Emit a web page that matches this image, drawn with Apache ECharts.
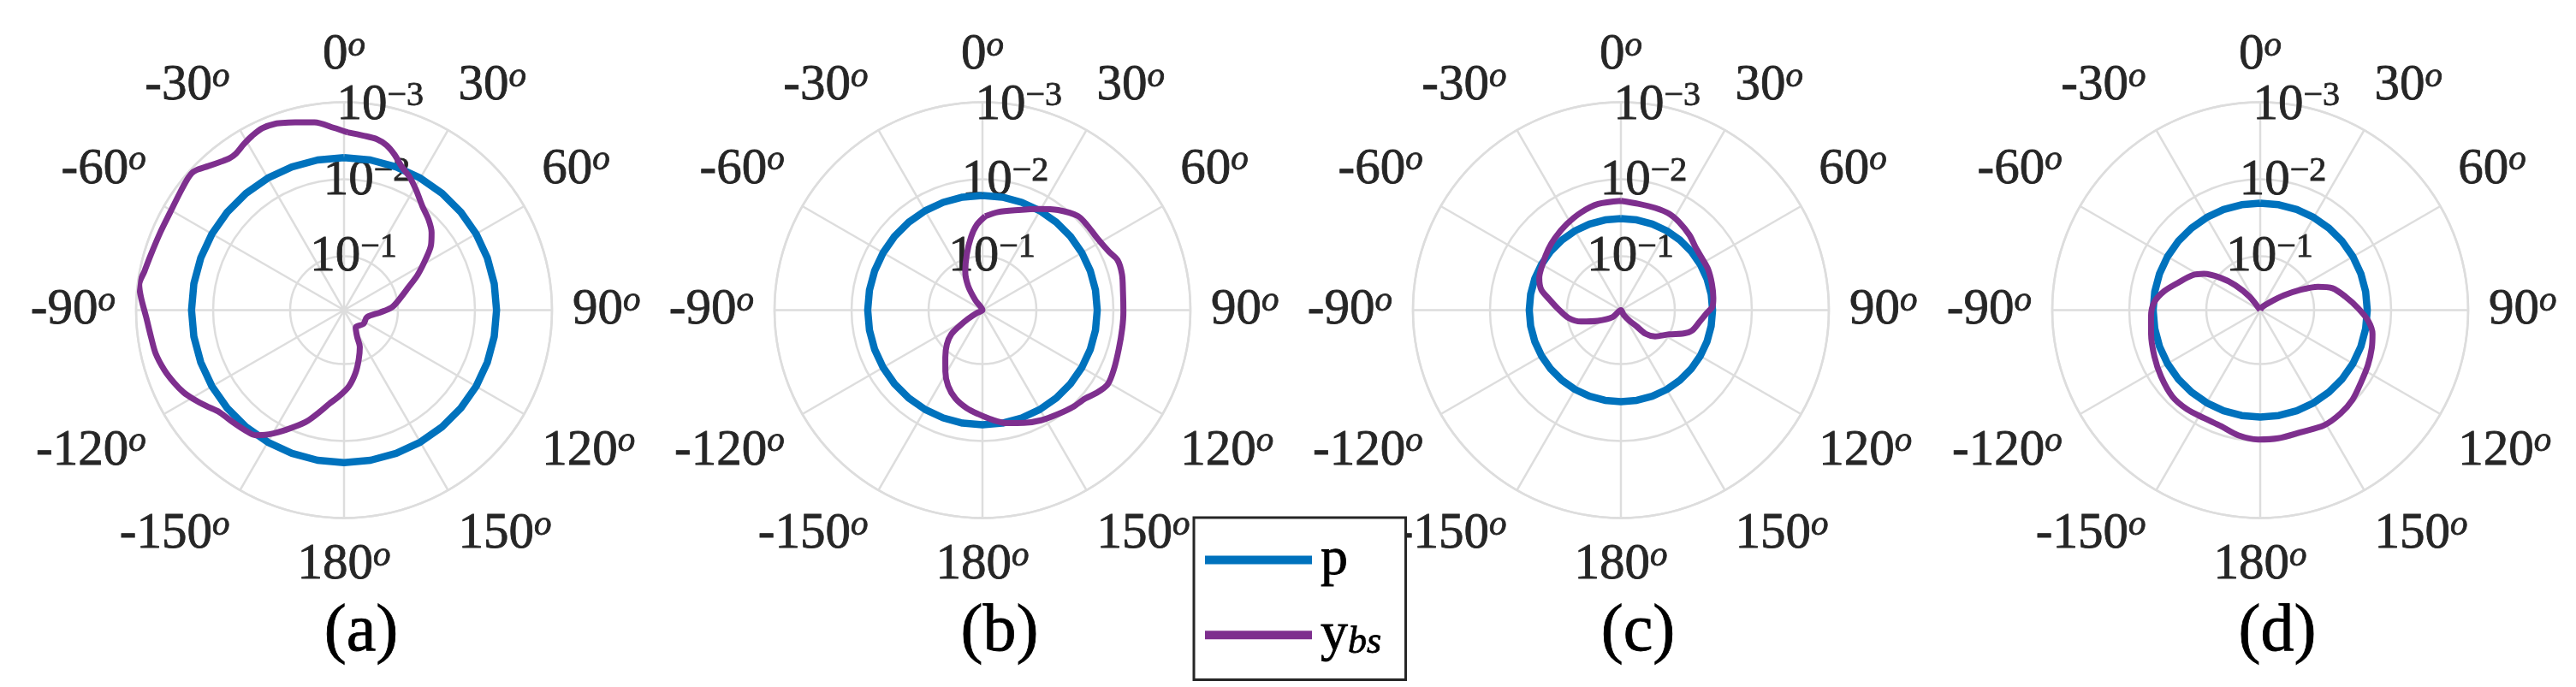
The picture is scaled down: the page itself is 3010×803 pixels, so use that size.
<!DOCTYPE html>
<html><head><meta charset="utf-8">
<script src="https://cdn.jsdelivr.net/npm/echarts@6/dist/echarts.min.js"></script>
<style>html,body{margin:0;padding:0;background:#fff}#c{width:3010px;height:803px}</style>
</head><body><div id="c"></div>
<script>
// ---------- data (values are log10 of the plotted magnitude) ----------
const panelLabels = ['(a)', '(b)', '(c)', '(d)'];
const angleTicks = [0, 30, 60, 90, 120, 150, 180, 210, 240, 270, 300, 330];
const angleTickLabels = ['0', '30', '60', '90', '120', '150', '180', '-150', '-120', '-90', '-60', '-30'];
const radialTicks = [-3, -2, -1];
const radialTickLabels = ['\u22123', '\u22122', '\u22121'];

const pAngles = [0,10,20,30,40,50,60,70,80,90,100,110,120,130,140,150,160,170,180,190,200,210,220,230,240,250,260,270,280,290,300,310,320,330,340,350,360];
const pA = [-2.28,-2.28,-2.28,-2.28,-2.28,-2.28,-2.28,-2.28,-2.28,-2.28,-2.28,-2.28,-2.28,-2.28,-2.28,-2.28,-2.28,-2.28,-2.28,-2.28,-2.28,-2.28,-2.28,-2.28,-2.28,-2.28,-2.28,-2.28,-2.28,-2.28,-2.28,-2.28,-2.28,-2.28,-2.28,-2.28,-2.28];
const pB = [-1.79,-1.79,-1.79,-1.79,-1.79,-1.79,-1.79,-1.79,-1.79,-1.79,-1.79,-1.79,-1.79,-1.79,-1.79,-1.79,-1.79,-1.79,-1.79,-1.79,-1.79,-1.79,-1.79,-1.79,-1.79,-1.79,-1.79,-1.79,-1.79,-1.79,-1.79,-1.79,-1.79,-1.79,-1.79,-1.79,-1.79];
const pC = [-1.49,-1.49,-1.49,-1.49,-1.49,-1.49,-1.49,-1.49,-1.49,-1.49,-1.49,-1.49,-1.49,-1.49,-1.49,-1.49,-1.49,-1.49,-1.49,-1.49,-1.49,-1.49,-1.49,-1.49,-1.49,-1.49,-1.49,-1.49,-1.49,-1.49,-1.49,-1.49,-1.49,-1.49,-1.49,-1.49,-1.49];
const pD = [-1.69,-1.69,-1.69,-1.69,-1.69,-1.69,-1.69,-1.69,-1.69,-1.69,-1.69,-1.69,-1.69,-1.69,-1.69,-1.69,-1.69,-1.69,-1.69,-1.69,-1.69,-1.69,-1.69,-1.69,-1.69,-1.69,-1.69,-1.69,-1.69,-1.69,-1.69,-1.69,-1.69,-1.69,-1.69,-1.69,-1.69];

const ybsAAngles = [1.1,6.4,10.9,14.5,18.1,21.8,26.1,30.9,37.0,42.9,48.4,53.2,57.7,64.4,70.8,79.0,86.8,93.6,107.4,125,146,154,156.8,163.5,169.7,176.3,183.3,188.9,193.5,198.1,202.8,208.3,213.2,215.3,219.3,224.8,230.6,235.2,239.4,242.8,246.9,251.7,257.1,262.1,267.9,273.5,277.1,281,285.9,293,299.3,305.6,309.7,312,313.6,316.7,320,322.9,325.4,329,332.3,335.8,339.7,343.5,345.4,351.1,356.9,1.1];
const ybsA = [-2.61,-2.58,-2.56,-2.51,-2.42,-2.31,-2.23,-2.12,-1.99,-1.91,-1.82,-1.71,-1.56,-1.36,-1.18,-1.03,-0.92,-0.77,-0.61,-0.61,-0.57,-0.69,-0.82,-0.97,-1.13,-1.29,-1.42,-1.53,-1.66,-1.81,-1.94,-2.10,-2.24,-2.29,-2.32,-2.35,-2.39,-2.48,-2.57,-2.64,-2.70,-2.76,-2.81,-2.83,-2.87,-2.94,-2.98,-2.94,-2.91,-2.89,-2.89,-2.92,-2.95,-2.96,-2.94,-2.87,-2.81,-2.77,-2.77,-2.82,-2.86,-2.89,-2.88,-2.84,-2.82,-2.77,-2.67,-2.61];

const ybsBAngles = [1.7,9.1,19.6,28.8,37.1,45.4,51.4,58.3,65.3,69.7,75.6,82.5,90.6,97.6,105.8,114,120.6,126,130.7,137.2,144,152,159.8,167.9,174.8,182.4,189.1,197,204.4,211.2,218.2,226.2,232.3,235.5,239,243.4,285,324.5,329.5,336,344.2,351.1,356.2,1.7];
const ybsB = [-1.52,-1.59,-1.68,-1.80,-1.93,-2.04,-2.05,-2.06,-2.11,-2.17,-2.17,-2.14,-2.13,-2.13,-2.14,-2.17,-2.19,-2.13,-2.06,-2.02,-1.97,-1.92,-1.86,-1.80,-1.73,-1.65,-1.59,-1.50,-1.38,-1.23,-1.08,-0.94,-0.81,-0.66,-0.52,-0.38,-0.30,-0.46,-0.67,-0.85,-1.05,-1.26,-1.41,-1.52];

const ybsCAngles = [0,9.1,18.5,26.7,33.6,42.4,49.4,57.3,64.9,73.8,82.5,87.7,92.3,98.7,106.1,110.4,116.6,127.5,134,136,140.9,149.5,190,230.2,245.2,254.1,261.7,270.8,278.6,284.6,291.6,300.7,309.9,317.7,327.9,337.8,347.9,360];
const ybsC = [-1.72,-1.70,-1.70,-1.70,-1.67,-1.62,-1.57,-1.55,-1.55,-1.53,-1.51,-1.49,-1.41,-1.33,-1.26,-1.17,-1.00,-0.86,-0.74,-0.59,-0.48,-0.37,-0.30,-0.44,-0.63,-0.84,-0.99,-1.11,-1.24,-1.37,-1.44,-1.48,-1.53,-1.57,-1.62,-1.67,-1.71,-1.72];

const ybsDAngles = [0,33.7,50.7,58,63.3,68,73.1,81,88.8,95.7,101.9,108.8,117,125.6,134.1,142.1,151,161.5,172,180.9,190,198.6,207.5,216.4,225.4,236.1,246.3,257.7,266.6,274.2,281.2,288.7,297.2,302.8,309.3,315,321.8,360];
const ybsD = [-0.30,-0.35,-0.46,-0.66,-0.89,-1.11,-1.28,-1.42,-1.57,-1.71,-1.79,-1.83,-1.87,-1.91,-1.97,-2.00,-2.01,-1.97,-1.98,-1.98,-1.95,-1.89,-1.88,-1.90,-1.90,-1.85,-1.80,-1.75,-1.72,-1.68,-1.57,-1.42,-1.29,-1.17,-0.96,-0.76,-0.52,-0.30];

// ---------- styling ----------
const F = "'Liberation Serif', 'DejaVu Serif', serif";
const GRID = '#dddddd';
const BLUE = '#0072BD';
const PURPLE = '#7E2F8E';
const TXT = '#262626';
const centers = [[402, 362.5], [1148, 362.5], [1894, 362.5], [2641, 362.5]];
const titleX = [417, 1163, 1909, 2656];
const R = 243;

const pSets = [pA, pB, pC, pD];
const ySets = [[ybsAAngles, ybsA], [ybsBAngles, ybsB], [ybsCAngles, ybsC], [ybsDAngles, ybsD]];

const heavy = { textBorderColor: TXT, textBorderWidth: 0.8 };
const angleRich = {
  n: Object.assign({ fontFamily: F, fontSize: 59, color: TXT, lineHeight: 62 }, heavy),
  o: Object.assign({ fontFamily: F, fontSize: 41, fontStyle: 'italic', color: TXT, lineHeight: 32, verticalAlign: 'top' }, heavy)
};
const radRich = {
  n: Object.assign({ fontFamily: F, fontSize: 59, color: TXT, lineHeight: 62 }, heavy),
  s: Object.assign({ fontFamily: F, fontSize: 40, color: TXT, lineHeight: 36, verticalAlign: 'top' }, heavy)
};
function angleFmt(v) {
  const i = angleTicks.indexOf(Math.round(v));
  if (i < 0) return '';
  return '{n|' + angleTickLabels[i] + '}{o|o}';
}
function radFmt(v) {
  const i = radialTicks.indexOf(v);
  if (i < 0) return '';
  return '{n|10}{s|' + radialTickLabels[i] + '}';
}

const polar = [], angleAxis = [], radiusAxis = [], series = [], title = [];
for (let i = 0; i < 4; i++) {
  polar.push({ center: centers[i], radius: R });
  angleAxis.push({
    polarIndex: i, type: 'value', min: 0, max: 360, interval: 30, startAngle: 90, clockwise: true,
    axisLine: { show: true, lineStyle: { color: GRID, width: 2.5 } },
    axisTick: { show: false },
    splitLine: { show: true, lineStyle: { color: GRID, width: 2.5 } },
    axisLabel: { margin: 24, formatter: angleFmt, rich: angleRich }
  });
  radiusAxis.push({
    polarIndex: i, type: 'value', min: -3, max: -0.3, interval: 1, inverse: true,
    axisLine: { show: false }, axisTick: { show: false }, axisLabel: { show: false },
    splitLine: { show: true, lineStyle: { color: GRID, width: 2.5 } }
  });
  title.push({
    text: panelLabels[i], left: titleX[i], top: 690, textAlign: 'center',
    textStyle: { fontFamily: F, fontSize: 78, lineHeight: 90, fontWeight: 'normal', color: '#000', textBorderColor: '#000', textBorderWidth: 0.8 }
  });
}
// label-only polars: radial tick labels drawn along the 10-degree ray
for (let i = 0; i < 4; i++) {
  polar.push({ center: centers[i], radius: R });
  angleAxis.push({ polarIndex: 4 + i, type: 'value', min: 0, max: 360, startAngle: 80, clockwise: true, show: false });
  radiusAxis.push({
    polarIndex: 4 + i, type: 'value', min: -3, max: -0.3, interval: 1, inverse: true,
    axisLine: { show: false }, axisTick: { show: false }, splitLine: { show: false },
    axisLabel: { margin: 0, align: 'center', verticalAlign: 'middle', formatter: radFmt, rich: radRich }
  });
}
for (let i = 0; i < 4; i++) {
  series.push({
    type: 'line', name: 'p', coordinateSystem: 'polar', polarIndex: i,
    data: pAngles.map((a, k) => [pSets[i][k], a]),
    symbol: 'none', showSymbol: false, lineStyle: { color: BLUE, width: 8.5 }, itemStyle: { color: BLUE }, z: 3
  });
  series.push({
    type: 'line', name: 'ybs', coordinateSystem: 'polar', polarIndex: i,
    data: ySets[i][0].map((a, k) => [ySets[i][1][k], a]),
    symbol: 'none', showSymbol: false, smooth: 0.3, lineStyle: { color: PURPLE, width: 7 }, itemStyle: { color: PURPLE }, z: 4
  });
}

const chart = echarts.init(document.getElementById('c'), null, { renderer: 'canvas' });
chart.setOption({
  animation: false,
  backgroundColor: '#fff',
  title: title,
  polar: polar,
  angleAxis: angleAxis,
  radiusAxis: radiusAxis,
  legend: {
    orient: 'vertical', left: 1395, top: 605, data: ['p', 'ybs'],
    icon: 'rect', itemWidth: 125, itemHeight: 10, itemGap: 23,
    padding: [17, 28, 20, 13], borderColor: '#262626', borderWidth: 3, borderRadius: 0,
    backgroundColor: '#fff',
    formatter: function (name) { return name === 'ybs' ? '{y|y}{b|bs}' : '{y|p}'; },
    textStyle: {
      fontFamily: F, fontSize: 64, color: '#000', lineHeight: 60,
      rich: {
        y: { fontFamily: F, fontSize: 64, color: '#000', lineHeight: 60, padding: [0, 0, 0, 5], textBorderColor: '#000', textBorderWidth: 0.8 },
        b: { fontFamily: F, fontSize: 44, fontStyle: 'italic', color: '#000', lineHeight: 60, padding: [18, 0, 0, 0], textBorderColor: '#000', textBorderWidth: 0.8 }
      }
    }
  },
  series: series
});
</script></body></html>
